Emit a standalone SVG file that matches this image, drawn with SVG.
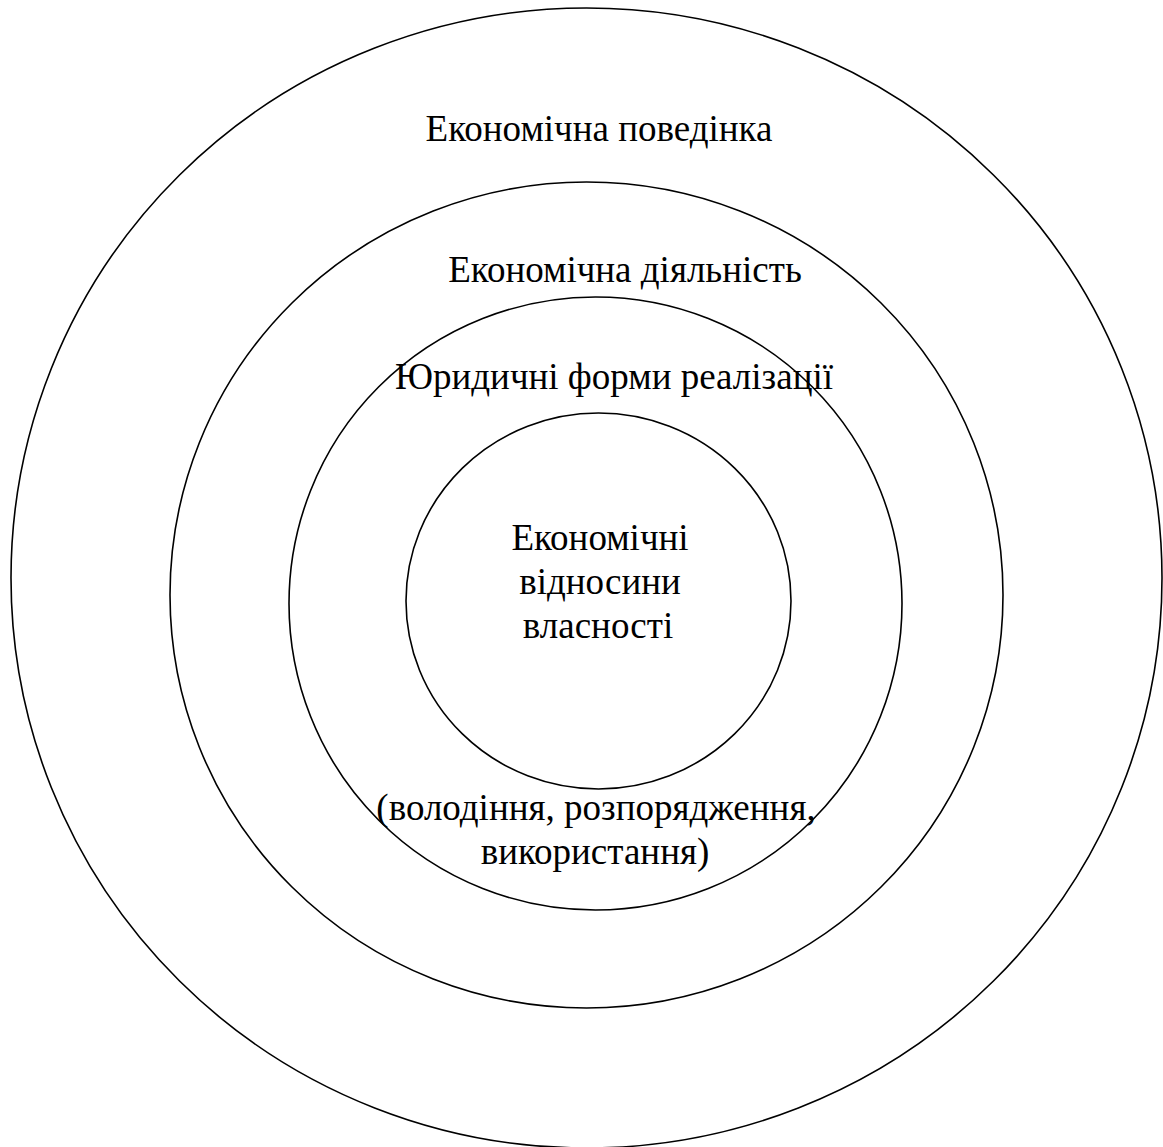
<svg xmlns="http://www.w3.org/2000/svg" width="1163" height="1147" viewBox="0 0 1163 1147">
  <style>
    .ring { fill: none; stroke: #000; stroke-width: 1.6; }
    .lbl { font-family: "Liberation Serif", "Times New Roman", serif; font-size: 37px; fill: #000; text-anchor: middle; }
  </style>
  <rect width="1163" height="1147" fill="#fff"/>
  <!-- concentric rings, outermost first -->
  <g id="ring-behaviour">
    <ellipse class="ring" cx="586.5" cy="578" rx="575.5" ry="570"/>
    <text class="lbl" x="599" y="141">Економічна поведінка</text>
  </g>
  <g id="ring-activity">
    <ellipse class="ring" cx="586.5" cy="595" rx="416.5" ry="413"/>
    <text class="lbl" x="625" y="282">Економічна діяльність</text>
  </g>
  <g id="ring-legal">
    <ellipse class="ring" cx="595.5" cy="603.5" rx="306.5" ry="306.5"/>
    <text class="lbl" x="614" y="389">Юридичні форми реалізації</text>
    <text class="lbl" x="596" y="820">(володіння, розпорядження,</text>
    <text class="lbl" x="595" y="864">використання)</text>
  </g>
  <g id="core">
    <ellipse class="ring" cx="598.5" cy="601" rx="192.5" ry="188"/>
    <text class="lbl" x="600" y="550">Економічні</text>
    <text class="lbl" x="600" y="594">відносини</text>
    <text class="lbl" x="598" y="638">власності</text>
  </g>
  <g id="connectors"/>
</svg>
